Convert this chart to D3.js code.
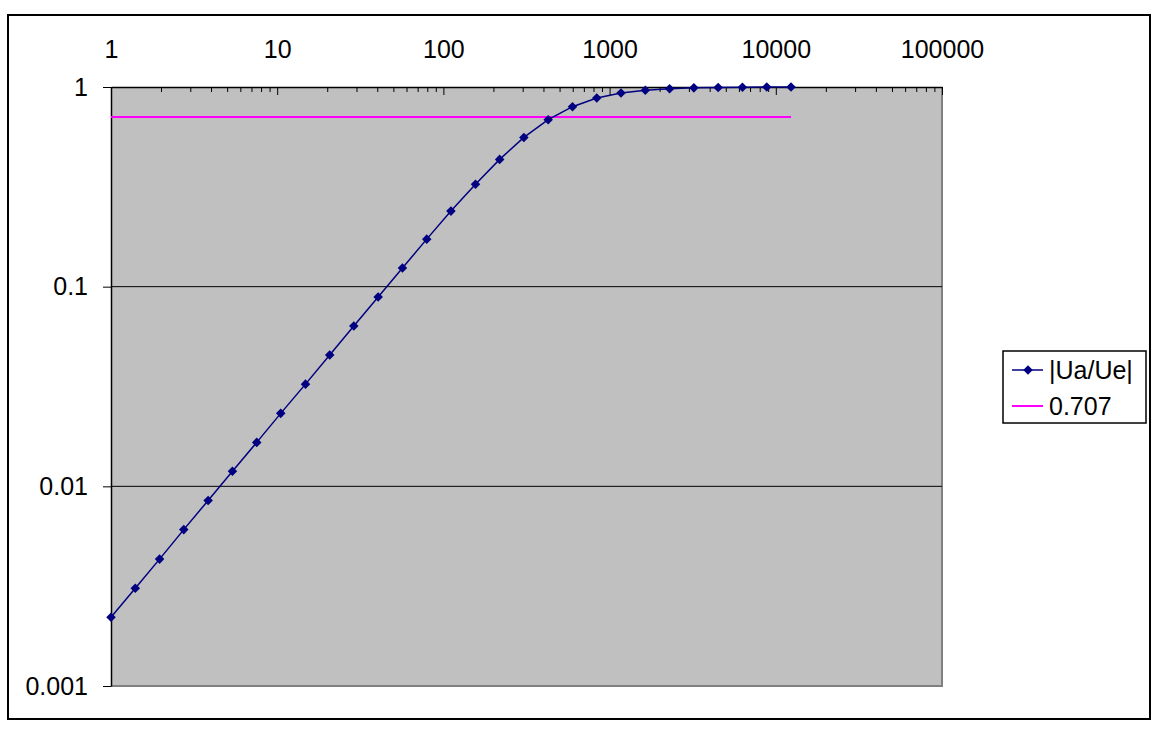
<!DOCTYPE html>
<html>
<head>
<meta charset="utf-8">
<script src="https://cdn.jsdelivr.net/npm/d3@7"></script>
<style>
  body { margin: 0; background: #fff; }
  svg { display: block; font-family: "Liberation Sans", Arial, sans-serif; }
</style>
</head>
<body>
<svg width="1162" height="730"></svg>
<script>
const freqs = [1, 1.4, 1.96, 2.74, 3.84, 5.38, 7.53, 10.5, 14.8, 20.7, 28.9, 40.5, 56.7, 79.4,
  111, 156, 218, 305, 427, 598, 837, 1171, 1640, 2296, 3214, 4500, 6300, 8820, 12348];
const gain = [0.00221, 0.00309, 0.00432, 0.00607, 0.0085, 0.0119, 0.0166, 0.0232, 0.0325,
  0.0455, 0.0635, 0.0887, 0.124, 0.173, 0.239, 0.326, 0.434, 0.559, 0.686, 0.797, 0.88,
  0.933, 0.964, 0.981, 0.99, 0.995, 0.997, 0.999, 0.999];
const ref707 = [0.707, 0.707, 0.707, 0.707, 0.707, 0.707, 0.707, 0.707, 0.707, 0.707,
  0.707, 0.707, 0.707, 0.707, 0.707, 0.707, 0.707, 0.707, 0.707, 0.707, 0.707, 0.707,
  0.707, 0.707, 0.707, 0.707, 0.707, 0.707, 0.707];
const xTicks = [1, 10, 100, 1000, 10000, 100000];
const yTicks = [0.001, 0.01, 0.1, 1];
const seriesNames = ["|Ua/Ue|", "0.707"];

const svg = d3.select("svg");
const fontSize = 25;

// chart area border
svg.append("rect")
    .attr("x", 8).attr("y", 15)
    .attr("width", 1142).attr("height", 704)
    .attr("fill", "#fff")
    .attr("stroke", "#000")
    .attr("stroke-width", 2);

const plotL = 111, plotR = 942, plotT = 87, plotB = 686;

const x = d3.scaleLog().domain([1, 100000]).range([plotL, plotR]);
const y = d3.scaleLog().domain([0.001, 1]).range([plotB, plotT]);

// plot area
svg.append("rect")
    .attr("x", plotL).attr("y", plotT)
    .attr("width", plotR - plotL).attr("height", plotB - plotT)
    .attr("fill", "#c0c0c0");

// grey right/bottom border of the plot area
svg.append("path")
    .attr("d", `M${plotR},${plotT}V${plotB}H${plotL}`)
    .attr("fill", "none")
    .attr("stroke", "#808080")
    .attr("stroke-width", 2);

// horizontal gridlines
svg.append("g")
  .selectAll("line")
  .data(yTicks.filter(d => d > 0.001 && d < 1))
  .join("line")
    .attr("x1", plotL).attr("x2", plotR)
    .attr("y1", d => y(d)).attr("y2", d => y(d))
    .attr("stroke", "#000")
    .attr("stroke-width", 1);

// minor x ticks (2..9 of each decade)
const minorX = [];
for (let dec = 1; dec < 100000; dec *= 10) {
    for (let m = 2; m <= 9; m++) minorX.push(dec * m);
}

svg.append("g")
    .attr("transform", `translate(0,${plotT})`)
    .call(d3.axisTop(x).tickValues(minorX).tickSize(-5).tickSizeOuter(0).tickFormat(""))
    .call(g => g.select(".domain").remove())
    .call(g => g.selectAll("line").attr("stroke", "#000"));

// major x axis on top, ticks pointing inwards
svg.append("g")
    .attr("transform", `translate(0,${plotT})`)
    .call(d3.axisTop(x).tickValues(xTicks).tickSize(-8).tickSizeOuter(0)
        .tickPadding(29).tickFormat(d => String(d)))
    .call(g => g.select(".domain").attr("stroke", "#000").attr("stroke-width", 1.5))
    .call(g => g.selectAll("line").attr("stroke", "#000"))
    .call(g => g.selectAll("text")
        .attr("fill", "#000")
        .attr("font-size", fontSize)
        .attr("font-family", "Liberation Sans, Arial, sans-serif"));

// y axis
svg.append("g")
    .attr("transform", `translate(${plotL},0)`)
    .call(d3.axisLeft(y).tickValues(yTicks).tickSize(8).tickSizeOuter(0)
        .tickPadding(15).tickFormat(d => String(d)))
    .call(g => g.select(".domain").attr("stroke", "#000").attr("stroke-width", 1.5))
    .call(g => g.selectAll("line").attr("stroke", "#000"))
    .call(g => g.selectAll("text")
        .attr("fill", "#000")
        .attr("font-size", fontSize)
        .attr("font-family", "Liberation Sans, Arial, sans-serif"));

// 0.707 reference line
const refLine = d3.line()
    .x((d, i) => x(freqs[i]))
    .y(d => y(d));

svg.append("path")
    .datum(ref707)
    .attr("d", refLine)
    .attr("fill", "none")
    .attr("stroke", "#ff00ff")
    .attr("stroke-width", 2);

// gain series
const gainLine = d3.line()
    .x((d, i) => x(freqs[i]))
    .y(d => y(d));

svg.append("path")
    .datum(gain)
    .attr("d", gainLine)
    .attr("fill", "none")
    .attr("stroke", "#000080")
    .attr("stroke-width", 1.5);

const diamond = d3.symbol().type(d3.symbolDiamond2).size(58);

svg.append("g")
  .selectAll("path")
  .data(gain)
  .join("path")
    .attr("transform", (d, i) => `translate(${x(freqs[i])},${y(d)})`)
    .attr("d", diamond)
    .attr("fill", "#000080");

// legend
const legend = svg.append("g");
legend.append("rect")
    .attr("x", 1003).attr("y", 351)
    .attr("width", 143).attr("height", 72)
    .attr("fill", "#fff")
    .attr("stroke", "#000")
    .attr("stroke-width", 1.5);

const rows = legend.selectAll("g")
  .data(seriesNames)
  .join("g")
    .attr("transform", (d, i) => `translate(1012,${370 + i * 36})`);

rows.append("line")
    .attr("x1", 0).attr("x2", 31)
    .attr("stroke", (d, i) => i === 0 ? "#000080" : "#ff00ff")
    .attr("stroke-width", (d, i) => i === 0 ? 1.5 : 2);

rows.filter((d, i) => i === 0)
  .append("path")
    .attr("transform", "translate(16,0)")
    .attr("d", diamond)
    .attr("fill", "#000080");

rows.append("text")
    .attr("x", 37)
    .attr("dy", "0.35em")
    .attr("font-size", fontSize)
    .attr("fill", "#000")
    .text(d => d);
</script>
</body>
</html>
